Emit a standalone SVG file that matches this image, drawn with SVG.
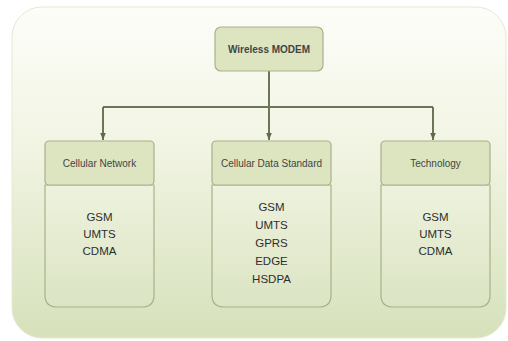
<svg xmlns="http://www.w3.org/2000/svg" width="508" height="341" viewBox="0 0 508 341">
<defs>
<linearGradient id="bg" x1="0" y1="0" x2="0" y2="1">
<stop offset="0" stop-color="#fdfdf9"/>
<stop offset="0.4" stop-color="#f2f5e4"/>
<stop offset="1" stop-color="#d6e1bb"/>
</linearGradient>
<linearGradient id="body" x1="0" y1="0" x2="0" y2="1">
<stop offset="0" stop-color="#eef2dd"/>
<stop offset="1" stop-color="#dbe4c3"/>
</linearGradient>
<marker id="arr" viewBox="0 0 10 10" refX="10" refY="5" markerWidth="3.5" markerHeight="3.5" orient="auto">
<path d="M0,1 L10,5 L0,9 z" fill="#5f6a4d"/>
</marker>
</defs>
<style>
.hdr{fill:#dce4c0;stroke:#a7b18a;stroke-width:1.2}
.bdy{fill:url(#body);stroke:#a7b18a;stroke-width:1.2}
.t{font-family:"Liberation Sans",Arial,sans-serif;font-size:11.5px;fill:#2e2e2e;text-anchor:middle}
.h{font-family:"Liberation Sans",Arial,sans-serif;font-size:10px;fill:#444;text-anchor:middle}
.c{fill:none;stroke:#6b7658;stroke-width:2}
</style>
<rect x="0" y="0" width="508" height="341" fill="#ffffff"/>
<rect x="12" y="7" width="494" height="331" rx="30" ry="30" fill="url(#bg)" stroke="#e4ead2" stroke-width="1"/>

<g id="connectors">
<path class="c" d="M269,71 V107"/>
<path class="c" d="M103,107 H433"/>
<path class="c" d="M103,107 V140" marker-end="url(#arr)"/>
<path class="c" d="M269,107 V140" marker-end="url(#arr)"/>
<path class="c" d="M433,107 V140" marker-end="url(#arr)"/>
</g>

<g id="wireless-modem">
<rect class="hdr" x="215" y="27" width="108" height="44" rx="6"/>
<text class="h" x="269" y="53" font-weight="bold">Wireless MODEM</text>
</g>

<g id="cellular-network">
<path class="bdy" d="M45,185 H154 V295 Q154,307 142,307 H57 Q45,307 45,295 Z"/>
<rect class="hdr" x="45" y="141" width="109" height="44" rx="4"/>
<text class="h" x="99.5" y="167">Cellular Network</text>
<text class="t" x="99.5" y="221">GSM</text>
<text class="t" x="99.5" y="238">UMTS</text>
<text class="t" x="99.5" y="255">CDMA</text>
</g>

<g id="cellular-data-standard">
<path class="bdy" d="M212,185 H331 V295 Q331,307 319,307 H224 Q212,307 212,295 Z"/>
<rect class="hdr" x="212" y="141" width="119" height="44" rx="4"/>
<text class="h" x="271.5" y="167">Cellular Data Standard</text>
<text class="t" x="271.5" y="211">GSM</text>
<text class="t" x="271.5" y="229">UMTS</text>
<text class="t" x="271.5" y="247">GPRS</text>
<text class="t" x="271.5" y="265">EDGE</text>
<text class="t" x="271.5" y="283">HSDPA</text>
</g>

<g id="technology">
<path class="bdy" d="M381,185 H490 V295 Q490,307 478,307 H393 Q381,307 381,295 Z"/>
<rect class="hdr" x="381" y="141" width="109" height="44" rx="4"/>
<text class="h" x="435.5" y="167">Technology</text>
<text class="t" x="435.5" y="221">GSM</text>
<text class="t" x="435.5" y="238">UMTS</text>
<text class="t" x="435.5" y="255">CDMA</text>
</g>
</svg>
